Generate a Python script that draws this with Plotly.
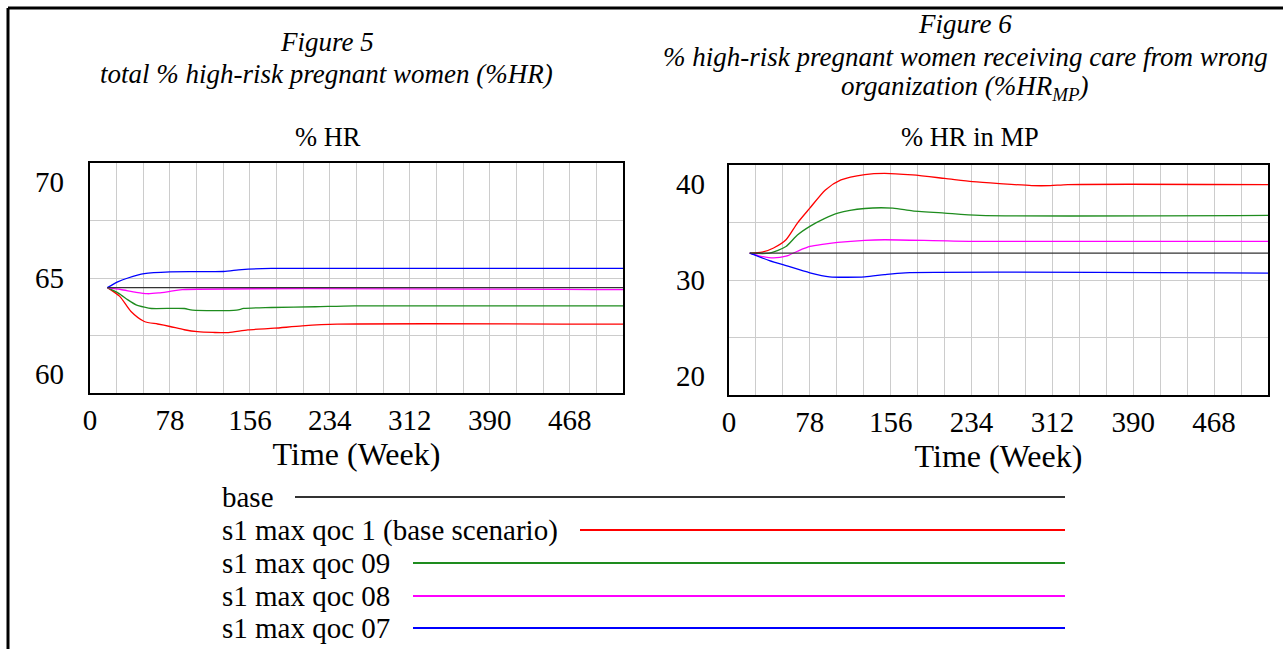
import plotly.graph_objects as go

W, H = 1283, 649
FONT = "Liberation Serif"

# ---------------- data ----------------
series_names = ["base", "s1 max qoc 1 (base scenario)", "s1 max qoc 09",
                "s1 max qoc 08", "s1 max qoc 07"]
series_colors = ["#333333", "#ff0000", "#1e8c1e", "#ff00ff", "#0000ff"]

# Figure 5 : % HR
hr_base_wk = [17, 520]
hr_base = [64.5, 64.5]
hr_s1_wk = [17, 29, 40, 53, 66, 78, 92, 105, 120, 135, 154, 180, 207, 241, 520]
hr_s1 = [64.5, 64.04, 63.25, 62.73, 62.6, 62.47, 62.3, 62.2, 62.16, 62.15, 62.29, 62.38, 62.5, 62.59, 62.59]
hr_09_wk = [17, 28, 37, 45, 53, 60, 92, 100, 143, 150, 177, 220, 258, 520]
hr_09 = [64.5, 64.2, 63.86, 63.6, 63.48, 63.41, 63.41, 63.32, 63.32, 63.41, 63.46, 63.5, 63.55, 63.55]
hr_08_wk = [17, 30, 45, 56, 67, 78, 90, 520]
hr_08 = [64.5, 64.4, 64.25, 64.18, 64.22, 64.3, 64.39, 64.39]
hr_07_wk = [17, 27, 37, 53, 78, 130, 148, 177, 520]
hr_07 = [64.5, 64.8, 65.0, 65.23, 65.32, 65.34, 65.44, 65.5, 65.5]

# Figure 6 : % HR in MP
mp_base_wk = [20, 520]
mp_base = [32.8, 32.8]
mp_s1_wk = [20, 32, 43, 55, 66, 78, 93, 108, 131, 150, 177, 208, 235, 261, 292, 310, 327, 520]
mp_s1 = [32.8, 32.9, 33.34, 34.2, 35.94, 37.5, 39.4, 40.44, 41.0, 41.13, 40.96, 40.6, 40.27, 40.06, 39.85, 39.85, 39.96, 39.96]
mp_09_wk = [20, 39, 55, 66, 78, 92, 105, 131, 158, 177, 208, 242, 520]
mp_09 = [32.8, 32.8, 33.5, 34.7, 35.6, 36.4, 36.98, 37.46, 37.5, 37.22, 36.98, 36.74, 36.74]
mp_08_wk = [20, 30, 43, 55, 66, 78, 92, 105, 131, 150, 235, 520]
mp_08 = [32.8, 32.5, 32.3, 32.48, 33.0, 33.5, 33.75, 33.93, 34.14, 34.2, 34.03, 34.03]
mp_07_wk = [20, 39, 55, 78, 97, 131, 150, 170, 520]
mp_07 = [32.8, 32.03, 31.5, 30.75, 30.33, 30.33, 30.57, 30.75, 30.72]

x_ticks = [0, 78, 156, 234, 312, 390, 468]
hr_ticks = [60, 65, 70]
mp_ticks = [20, 30, 40]

hr_sets = [(hr_base_wk, hr_base), (hr_s1_wk, hr_s1), (hr_09_wk, hr_09),
           (hr_08_wk, hr_08), (hr_07_wk, hr_07)]
mp_sets = [(mp_base_wk, mp_base), (mp_s1_wk, mp_s1), (mp_09_wk, mp_09),
           (mp_08_wk, mp_08), (mp_07_wk, mp_07)]


def px(x):
    return (x - 7) / 1276.0


def py(y):
    return 1 - y / H


fig = go.Figure()
order = [1, 2, 3, 4, 0]
for i in order:
    wk, v = hr_sets[i]
    fig.add_trace(go.Scatter(x=wk, y=v, mode="lines", xaxis="x", yaxis="y",
                             line=dict(color=series_colors[i], width=1.3,
                                       shape="spline", smoothing=0.7),
                             name=series_names[i], showlegend=False))
for i in order:
    wk, v = mp_sets[i]
    fig.add_trace(go.Scatter(x=wk, y=v, mode="lines", xaxis="x2", yaxis="y2",
                             line=dict(color=series_colors[i], width=1.3,
                                       shape="spline", smoothing=0.7),
                             name=series_names[i], showlegend=False))

grid = "#cccccc"
tickfont = dict(family=FONT, size=29, color="black")


def xaxis_cfg(dom):
    return dict(domain=dom, range=[0, 520], tickvals=x_ticks,
                showgrid=True, gridcolor=grid, gridwidth=1,
                minor=dict(tickmode="linear", tick0=0, dtick=26, showgrid=True,
                           gridcolor=grid, gridwidth=1, ticks=""),
                showline=True, linecolor="black", linewidth=2, mirror=True,
                zeroline=False, ticks="", tickfont=tickfont, ticklabelstandoff=0,
                title=dict(text="Time (Week)", font=dict(family=FONT, size=32, color="black"),
                           standoff=4))


def ygrid_cfg(dom, rng, dt):
    return dict(domain=dom, range=rng, tickmode="linear", tick0=rng[0], dtick=dt,
                showticklabels=False, showgrid=True, gridcolor=grid, gridwidth=1,
                showline=True, linecolor="black", linewidth=2, mirror=True,
                zeroline=False, ticks="")


def ylab_cfg(over, anchor, rng, vals, standoff):
    return dict(overlaying=over, anchor=anchor, range=rng, tickvals=vals,
                showgrid=False, zeroline=False, showline=False, ticks="",
                tickfont=tickfont, ticklabelstandoff=standoff, side="left")


fig.update_layout(
    width=W, height=H, margin=dict(l=0, r=0, t=0, b=0),
    paper_bgcolor="white", plot_bgcolor="white", showlegend=False,
    xaxis=dict(xaxis_cfg([px(90), px(623)]), anchor="y"),
    yaxis=ygrid_cfg([py(393), py(163)], [59, 71], 3),
    xaxis2=dict(xaxis_cfg([px(729), px(1268)]), anchor="y2"),
    yaxis2=dict(ygrid_cfg([py(395), py(165)], [18, 42], 6), anchor="x2"),
    yaxis3=ylab_cfg("y", "x", [59, 71], hr_ticks, 25),
    yaxis4=ylab_cfg("y2", "x2", [18, 42], mp_ticks, 23),
)

fig.add_trace(go.Scatter(x=[], y=[], xaxis="x", yaxis="y3", showlegend=False))
fig.add_trace(go.Scatter(x=[], y=[], xaxis="x2", yaxis="y4", showlegend=False))

shapes = []
annotations = []

# page border (top and left)
shapes.append(dict(type="line", xref="paper", yref="paper", x0=px(8), x1=1,
                   y0=py(8), y1=py(8), line=dict(color="black", width=3)))
shapes.append(dict(type="line", xref="paper", yref="paper", x0=px(8), x1=px(8),
                   y0=py(8), y1=0, line=dict(color="black", width=3)))


def text(x, y, s, size, italic=False, anchor="center"):
    if italic:
        s = "<i>" + s + "</i>"
    annotations.append(dict(x=px(x), y=py(y), xref="paper", yref="paper", text=s,
                            showarrow=False, xanchor=anchor, yanchor="middle",
                            font=dict(family=FONT, size=size, color="black")))


text(327, 42, "Figure 5", 27, True)
text(327, 74, "total % high-risk pregnant women (%HR)", 27, True)
text(328, 137, "% HR", 26.5)
text(965, 24, "Figure 6", 27, True)
text(965, 57, "% high-risk pregnant women receiving care from wrong", 27, True)
text(965, 88, "organization (%HR<sub>MP</sub>)", 27, True)
text(970, 137, "% HR in MP", 26.5)

# legend
leg_y = [497, 530, 563, 596, 628]
leg_x0 = [295, 580, 413, 413, 413]
for i in range(5):
    text(220, leg_y[i], series_names[i], 29, anchor="left")
    shapes.append(dict(type="line", xref="paper", yref="paper", x0=px(leg_x0[i]), x1=px(1065),
                       y0=py(leg_y[i]), y1=py(leg_y[i]),
                       line=dict(color=series_colors[i], width=2)))

fig.update_layout(shapes=shapes, annotations=annotations)
fig.write_html("out.html")
